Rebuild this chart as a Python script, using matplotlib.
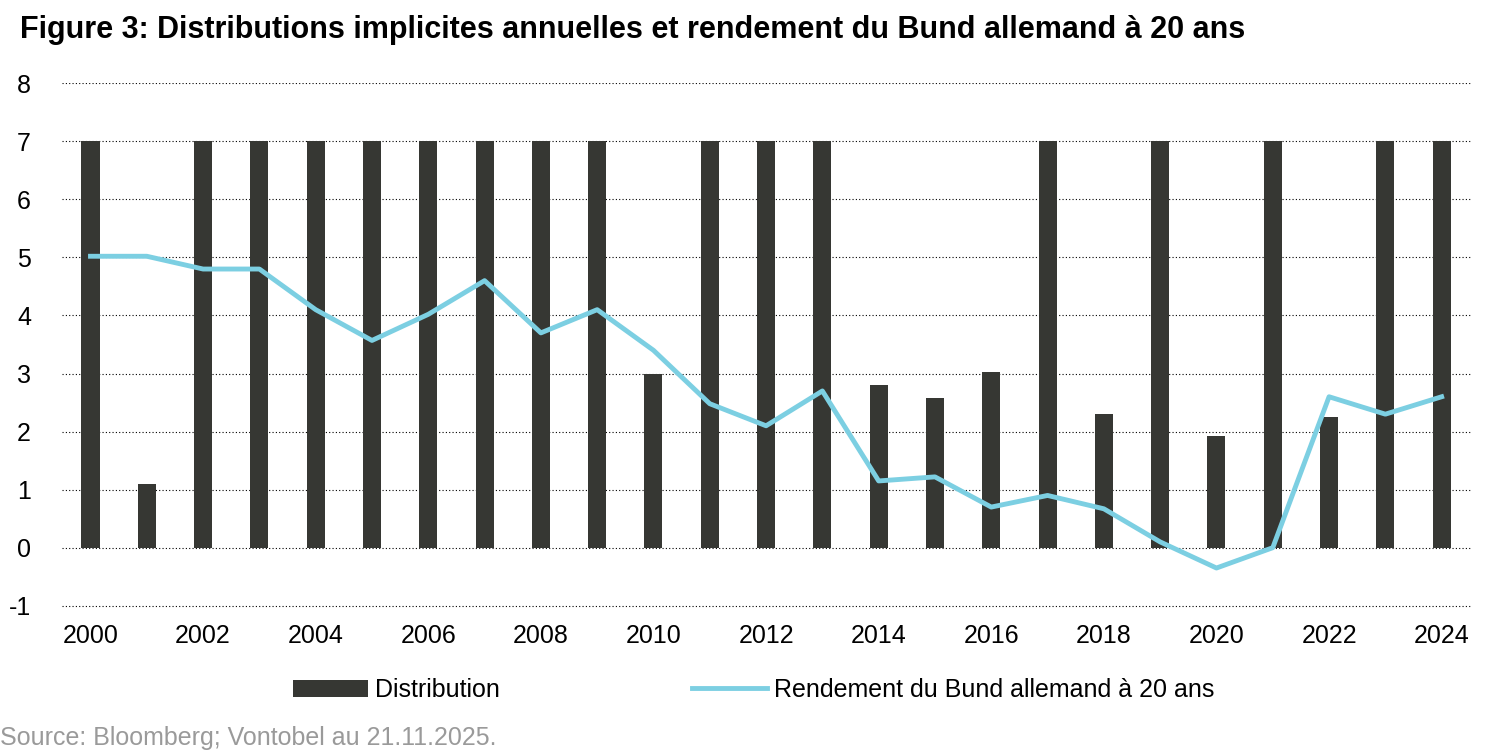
import matplotlib
matplotlib.use('agg')
import matplotlib.pyplot as plt
import matplotlib.ticker as tick

plt.rcParams['font.family'] = ['Liberation Sans', 'DejaVu Sans']
plt.rcParams['axes.unicode_minus'] = False

years = list(range(2000, 2025))
distribution = [7, 1.1, 7, 7, 7, 7, 7, 7, 7, 7, 3.0, 7, 7, 7, 2.8, 2.57, 3.02,
                7, 2.3, 7, 1.93, 7, 2.25, 7, 7]
bund_20y = [5.02, 5.02, 4.8, 4.8, 4.1, 3.57, 4.02, 4.6, 3.7, 4.1, 3.4, 2.48, 2.1,
            2.7, 1.15, 1.22, 0.7, 0.9, 0.67, 0.1, -0.35, 0.0, 2.6, 2.3, 2.6]

fig = plt.figure(figsize=(15, 7.5), dpi=100)
ax = fig.add_axes([0.041, 0.19, 0.94, 0.699])

bars = ax.bar(years, distribution, width=0.32, color='#363733', zorder=2)
line, = ax.plot(years, bund_20y, color='#7ccfe2', lw=3.5, zorder=3)

ax.set_ylim(-1.03, 8)
ax.yaxis.set_major_locator(tick.MultipleLocator(1))
ax.set_xlim(1999.485, 2024.53)
ax.set_xticks(range(2000, 2025, 2))
ax.grid(axis='y', color='black', linestyle=(0, (1, 2)), lw=0.8, zorder=0)
for s in ax.spines.values():
    s.set_visible(False)
ax.tick_params(length=0, labelsize=18, pad=12)
ax.tick_params(axis='y', pad=22)

fig.text(0.013, 0.96, 'Figure 3: Distributions implicites annuelles et rendement du Bund allemand à 20 ans',
         fontsize=22, fontweight='bold', va='center')
fig.legend([bars], ['Distribution'], loc='center left', bbox_to_anchor=(0.18, 0.08),
           frameon=False, fontsize=18, handlelength=3, handletextpad=0.3)
fig.legend([line], ['Rendement du Bund allemand à 20 ans'], loc='center left',
           bbox_to_anchor=(0.446, 0.08), frameon=False, fontsize=18,
           handlelength=3, handletextpad=0.3)
fig.text(0.0, 0.0, 'Source: Bloomberg; Vontobel au 21.11.2025.', fontsize=18,
         color='#9a9a9a', va='bottom')

fig.savefig('out.png', dpi=100)
